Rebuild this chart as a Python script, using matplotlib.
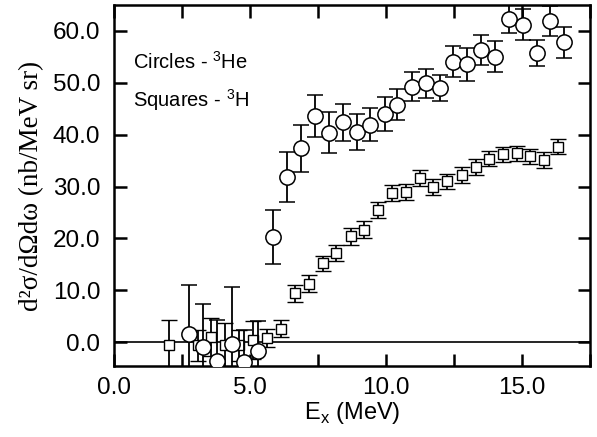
import numpy as np
import matplotlib
matplotlib.use('Agg')
import matplotlib.pyplot as plt
from matplotlib.ticker import MultipleLocator

plt.rcParams['font.family'] = ['Liberation Sans', 'DejaVu Sans']

## 3He (circles)
he_x = [2.74, 3.29, 3.78, 4.34, 4.79, 5.30, 5.83, 6.35, 6.88, 7.38, 7.90, 8.42, 8.92,
        9.41, 9.95, 10.42, 10.97, 11.46, 11.99, 12.48, 13.00, 13.50, 14.00, 14.53,
        15.05, 15.54, 16.04, 16.56]
he_y = [1.5, -0.9, -3.6, -0.3, -3.9, -1.7, 20.2, 31.8, 37.4, 43.6, 40.4, 42.4, 40.5,
        41.9, 44.0, 45.8, 49.2, 49.9, 49.0, 54.1, 53.6, 56.3, 55.0, 62.4,
        61.2, 55.8, 61.9, 57.8]
he_err = [9.5, 8.2, 7.8, 11.0, 6.2, 5.8, 5.2, 4.8, 4.5, 4.0, 3.9, 3.6, 3.4,
          3.2, 3.2, 3.0, 2.8, 2.8, 2.6, 3.0, 3.2, 2.9, 3.0, 2.7,
          3.0, 2.5, 2.9, 3.0]

## 3H (squares)
h_x = [2.03, 3.08, 3.58, 4.09, 4.58, 5.10, 5.63, 6.14, 6.65, 7.16, 7.68, 8.18, 8.70,
       9.21, 9.72, 10.21, 10.73, 11.24, 11.75, 12.26, 12.78, 13.31, 13.80, 14.31,
       14.81, 15.31, 15.82, 16.34]
h_y = [-0.6, -0.6, 1.0, -0.6, -0.6, 0.4, 0.8, 2.6, 9.4, 11.3, 15.2, 17.2, 20.4,
       21.7, 25.5, 28.8, 28.9, 31.6, 29.9, 31.0, 32.2, 33.8, 35.4, 36.2,
       36.4, 35.8, 35.1, 37.7]
h_err = [4.8, 3.0, 3.6, 4.2, 3.0, 3.7, 1.7, 1.6, 1.6, 1.6, 1.5, 1.6, 1.7,
         1.6, 1.6, 1.5, 1.5, 1.5, 1.5, 1.5, 1.5, 1.5, 1.5, 1.5,
         1.5, 1.5, 1.5, 1.5]

fig = plt.figure(figsize=(5.97, 4.37), dpi=100)
ax = fig.add_axes([0.191, 0.1625, 0.797, 0.826])

ax.axhline(0, color='black', lw=1.2, zorder=1)

ax.errorbar(h_x, h_y, yerr=h_err, fmt='s', ms=6.5, mfc='white', mec='black', mew=1.0,
            ecolor='black', elinewidth=1.3, capsize=5.5, capthick=1.8, zorder=2)
ax.errorbar(he_x, he_y, yerr=he_err, fmt='o', ms=11, mfc='white', mec='black', mew=1.1,
            ecolor='black', elinewidth=1.3, capsize=5.5, capthick=1.8, zorder=3)

ax.set_xlim(0, 17.5)
ax.set_ylim(-4.6, 65)
ax.xaxis.set_major_locator(MultipleLocator(5))
ax.xaxis.set_minor_locator(MultipleLocator(2.5))
ax.yaxis.set_major_locator(MultipleLocator(10))
ax.xaxis.set_major_formatter(matplotlib.ticker.FormatStrFormatter('%.1f'))
ax.yaxis.set_major_formatter(matplotlib.ticker.FormatStrFormatter('%.1f'))
ax.tick_params(which='both', direction='in', top=True, right=True, length=9, width=1.8,
               labelsize=17.5, pad=8)
ax.tick_params(axis='y', pad=10)
for s in ax.spines.values():
	s.set_linewidth(1.8)

ax.set_xlabel(r'E$_\mathregular{x}$ (MeV)', fontsize=17, labelpad=1)
ax.set_ylabel('d²σ/dΩdω (nb/MeV sr)', fontsize=19.5, family='Liberation Serif', labelpad=6)

ax.text(0.7, 54.0, r'Circles - $^\mathregular{3}$He', fontsize=14.5, va='center')
ax.text(0.7, 46.6, r'Squares - $^\mathregular{3}$H', fontsize=14.5, va='center')

fig.savefig('out.png', dpi=100)
